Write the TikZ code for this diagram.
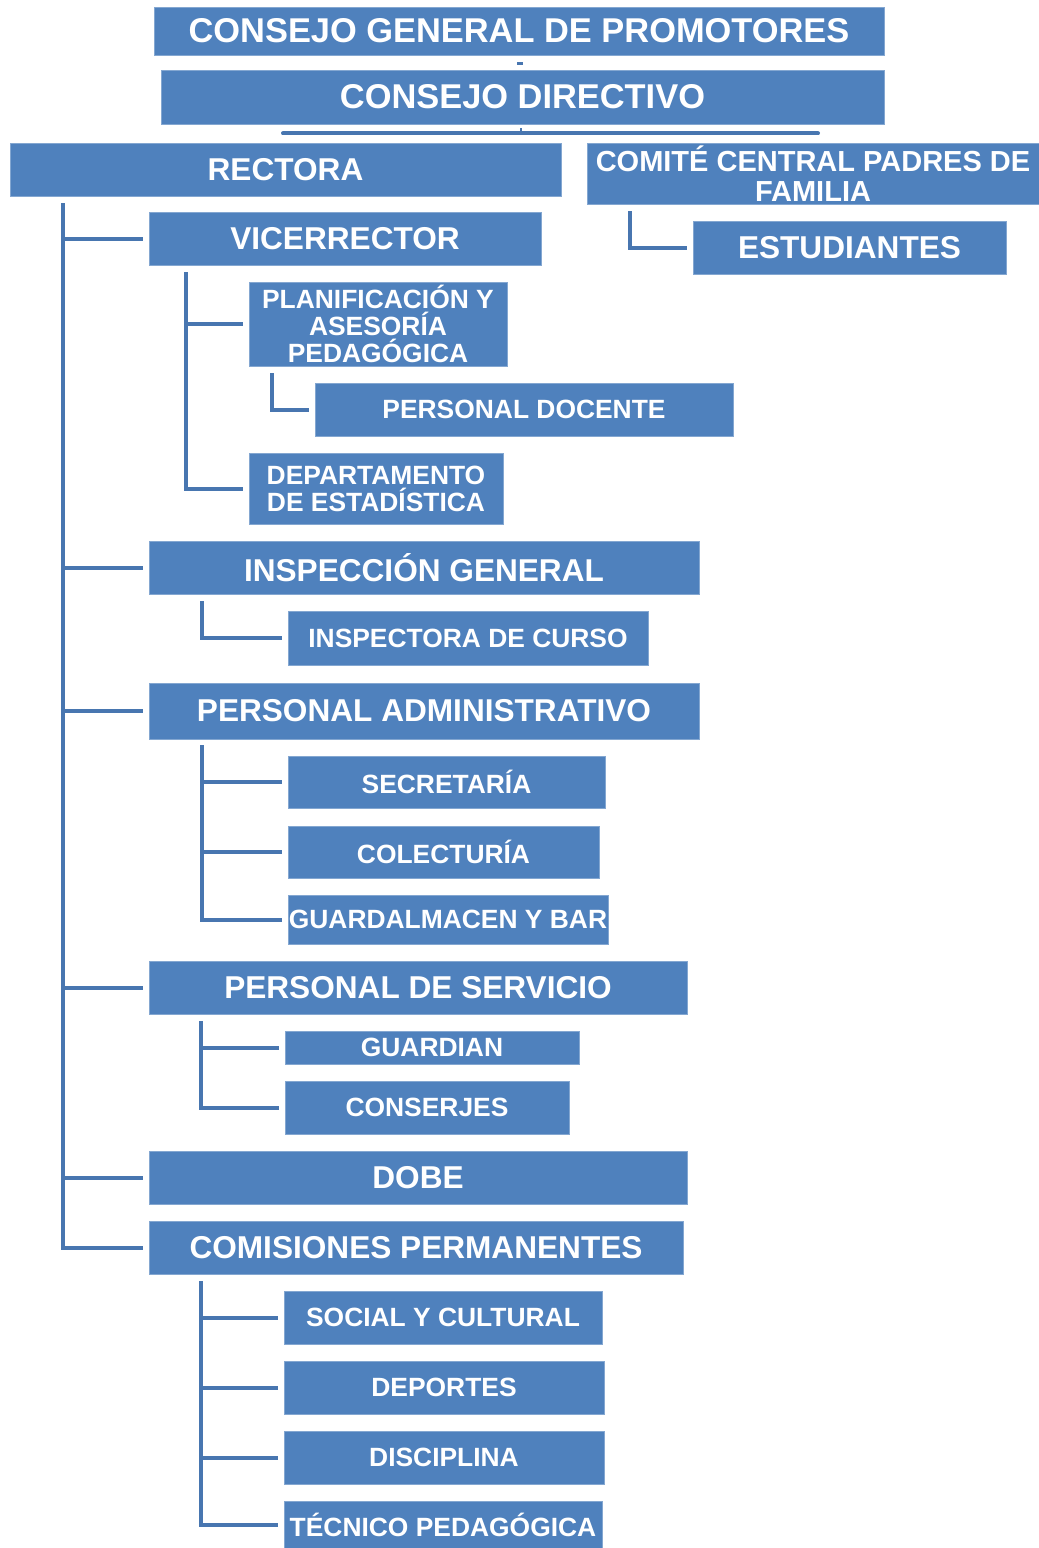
\documentclass[tikz,border=0pt]{standalone}
\usepackage{fontspec}
\setmainfont{Liberation Sans}
\definecolor{boxblue}{RGB}{79,129,189}
\definecolor{lineblue}{RGB}{72,118,176}
\begin{document}
\begin{tikzpicture}[x=1pt,y=-1pt,
  box/.style={fill=boxblue, draw=boxblue!70!white, line width=0.8pt, inner sep=0pt, text=white, align=center},
  big/.style={box, font=\fontsize{34.4}{36}\selectfont\bfseries},
  med/.style={box, font=\fontsize{31.6}{33}\selectfont\bfseries},
  sml/.style={box, font=\fontsize{26.4}{27}\selectfont\bfseries},
  conn/.style={draw=lineblue, line width=4pt},
]
\useasboundingbox (0,0) rectangle (1039,1548);
% boxes
\node[big, minimum width=730, minimum height=48] (cgp) at (519,31) {CONSEJO GENERAL DE PROMOTORES};
\node[big, minimum width=723, minimum height=54] (cd) at (522.5,97) {CONSEJO DIRECTIVO};
\node[med, minimum width=551, minimum height=53] (rect) at (285.5,169.5) {RECTORA};
\node[box, font=\fontsize{29}{30}\selectfont\bfseries, minimum width=452, minimum height=61] (comite) at (813,173.5) {COMITÉ CENTRAL PADRES DE\\FAMILIA};
\node[med, minimum width=313, minimum height=53] (estud) at (849.5,247.5) {ESTUDIANTES};
\node[med, minimum width=392, minimum height=53] (vice) at (345,238.5) {VICERRECTOR};
\node[sml, minimum width=258, minimum height=84] (plan) at (378,324) {PLANIFICACIÓN Y\\ASESORÍA\\PEDAGÓGICA};
\node[sml, minimum width=418, minimum height=53] (pdoc) at (524,409.5) {PERSONAL DOCENTE};
\node[sml, minimum width=254, minimum height=71] (dest) at (376,488.5) {DEPARTAMENTO\\DE ESTADÍSTICA};
\node[med, minimum width=550, minimum height=53] (insp) at (424,567.5) {INSPECCIÓN GENERAL};
\node[sml, minimum width=360, minimum height=54] (icur) at (468,638) {INSPECTORA DE CURSO};
\node[med, minimum width=550, minimum height=56] (padm) at (424,711) {PERSONAL ADMINISTRATIVO};
\node[sml, minimum width=317, minimum height=52] (secr) at (446.5,782) {SECRETARÍA};
\node[sml, minimum width=311, minimum height=52] (colec) at (443.5,852) {COLECTURÍA};
\node[sml, minimum width=320, minimum height=49] (guard) at (448,919.5) {GUARDALMACEN Y BAR};
\node[med, minimum width=538, minimum height=53] (pserv) at (418,987.5) {PERSONAL DE SERVICIO};
\node[sml, minimum width=294, minimum height=33] (guardian) at (432,1047.5) {GUARDIAN};
\node[sml, minimum width=284, minimum height=53] (consj) at (427,1107.5) {CONSERJES};
\node[med, minimum width=538, minimum height=53] (dobe) at (418,1177.5) {DOBE};
\node[med, minimum width=534, minimum height=53] (comis) at (416,1247.5) {COMISIONES PERMANENTES};
\node[sml, minimum width=318, minimum height=53] (social) at (443,1317.5) {SOCIAL Y CULTURAL};
\node[sml, minimum width=320, minimum height=53] (dep) at (444,1387.5) {DEPORTES};
\node[sml, minimum width=320, minimum height=53] (disc) at (444,1457.5) {DISCIPLINA};
\node[sml, minimum width=318, minimum height=47] (tec) at (443,1524.5) {TÉCNICO PEDAGÓGICA};
% top connectors
\draw[conn, line width=2.5pt] ([xshift=-2pt,yshift=-8pt]cgp.south) -- ([xshift=4pt,yshift=-8pt]cgp.south);
\draw[conn, line cap=round] ([xshift=-239.5pt,yshift=-9pt]cd.south) -- ([xshift=295.5pt,yshift=-9pt]cd.south);
\draw[conn, line width=2pt] ([xshift=-1.5pt,yshift=-4pt]cd.south) -- ([xshift=-1.5pt,yshift=-7pt]cd.south);
% trunk coordinates
\coordinate (tR) at ([xshift=53pt,yshift=-7pt]rect.south west);
\coordinate (tV) at ([xshift=37pt,yshift=-7pt]vice.south west);
\coordinate (tP) at ([xshift=23pt,yshift=-7pt]plan.south west);
\coordinate (tI) at ([xshift=53pt,yshift=-7pt]insp.south west);
\coordinate (tA) at ([xshift=53pt,yshift=-6pt]padm.south west);
\coordinate (tS) at ([xshift=52pt,yshift=-7pt]pserv.south west);
\coordinate (tC) at ([xshift=52pt,yshift=-7pt]comis.south west);
\coordinate (tF) at ([xshift=43pt,yshift=-7pt]comite.south west);
% branches
\foreach \c in {vice,insp,padm,pserv,dobe,comis}
  \draw[conn] (tR) |- ([xshift=-6pt]\c.west);
\foreach \c in {plan,dest}
  \draw[conn] (tV) |- ([xshift=-6pt]\c.west);
\draw[conn] (tP) |- ([xshift=-6pt]pdoc.west);
\draw[conn] (tI) |- ([xshift=-6pt]icur.west);
\foreach \c in {secr,colec,guard}
  \draw[conn] (tA) |- ([xshift=-6pt]\c.west);
\foreach \c in {guardian,consj}
  \draw[conn] (tS) |- ([xshift=-6pt]\c.west);
\foreach \c in {social,dep,disc,tec}
  \draw[conn] (tC) |- ([xshift=-6pt]\c.west);
\draw[conn] (tF) |- ([xshift=-6pt]estud.west);
\end{tikzpicture}
\end{document}
